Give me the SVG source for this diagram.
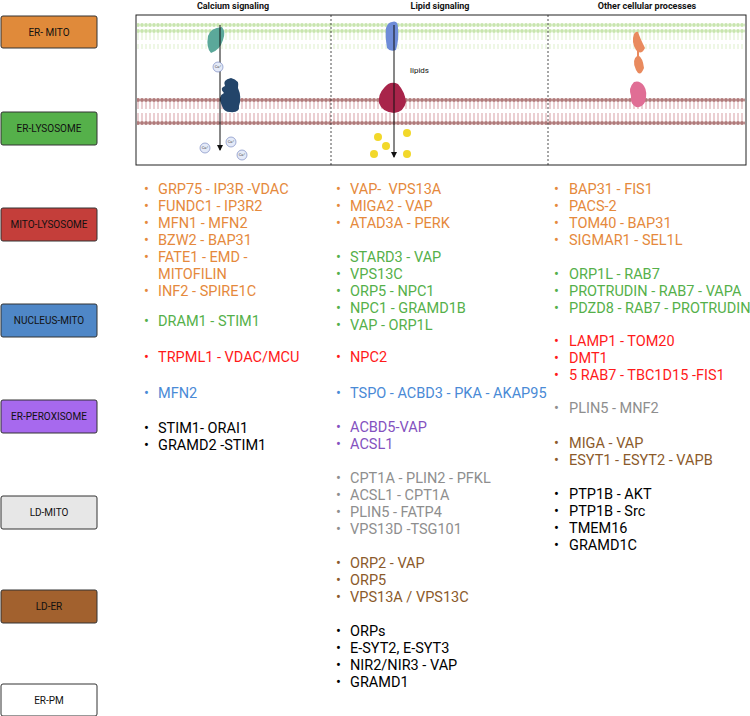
<svg xmlns="http://www.w3.org/2000/svg" width="750" height="716" viewBox="0 0 750 716">
<defs>
<style>
.box{stroke:#333;stroke-width:1;}
.bl{font-family:Roboto,"Liberation Sans",sans-serif;font-size:10px;fill:#111;text-anchor:middle;}
.t{font-family:Roboto,"Liberation Sans",sans-serif;font-size:14.5px;}
.h{font-family:Roboto,"Liberation Sans",sans-serif;font-size:9px;font-weight:bold;fill:#111;text-anchor:middle;}
.o{fill:#E5893C}.g{fill:#55B04A}.r{fill:#FF1A1A}.b{fill:#4A8AD6}.p{fill:#8452C0}.gy{fill:#8E8E8E}.br{fill:#8B5A2B}.k{fill:#000}
.ca{fill:#E4EAF8;stroke:#6A7BB8;stroke-width:0.6}
.cat{font-family:"Liberation Sans",sans-serif;font-size:3.5px;fill:#333;text-anchor:middle}
</style>
<pattern id="gm" x="0" y="0" width="4" height="28" patternUnits="userSpaceOnUse">
<circle cx="2" cy="3" r="1.9" fill="#C8E5AE"/><circle cx="2" cy="25" r="1.9" fill="#C8E5AE"/>
<line x1="1.5" y1="5" x2="1.5" y2="12" stroke="#DCEFCB" stroke-width="0.5"/><line x1="2.5" y1="5" x2="2.5" y2="12" stroke="#DCEFCB" stroke-width="0.5"/>
<line x1="1.5" y1="16" x2="1.5" y2="23" stroke="#DCEFCB" stroke-width="0.5"/><line x1="2.5" y1="16" x2="2.5" y2="23" stroke="#DCEFCB" stroke-width="0.5"/>
</pattern>
<pattern id="rm" x="0" y="97" width="4" height="28" patternUnits="userSpaceOnUse">
<circle cx="2" cy="3" r="2" fill="#B07A7A"/><circle cx="2" cy="26" r="2" fill="#B07A7A"/>
<line x1="1.5" y1="5" x2="1.5" y2="12" stroke="#DDAFB4" stroke-width="0.6"/><line x1="2.5" y1="5" x2="2.5" y2="12" stroke="#DDAFB4" stroke-width="0.6"/>
<line x1="1.5" y1="16" x2="1.5" y2="24" stroke="#DDAFB4" stroke-width="0.6"/><line x1="2.5" y1="16" x2="2.5" y2="24" stroke="#DDAFB4" stroke-width="0.6"/>
</pattern>
<marker id="ar" markerWidth="6" markerHeight="6" refX="5" refY="3" orient="auto"><path d="M0,0 L6,3 L0,6 Z" fill="#111"/></marker>
</defs>
<rect width="750" height="716" fill="#fff"/>

<g id="legend">
<g id="n-ermito"><rect class="box" x="1" y="16" width="96" height="32" rx="2" fill="#E08A3A"/><text class="bl" x="49" y="36">ER- MITO</text></g>
<g id="n-erlyso"><rect class="box" x="1" y="112" width="96" height="33" rx="2" fill="#55B04A"/><text class="bl" x="49" y="132">ER-LYSOSOME</text></g>
<g id="n-mitolyso"><rect class="box" x="1" y="208" width="96" height="33" rx="2" fill="#C43E3A"/><text class="bl" x="49" y="228">MITO-LYSOSOME</text></g>
<g id="n-nucmito"><rect class="box" x="1" y="304" width="96" height="33" rx="2" fill="#4F87C7"/><text class="bl" x="49" y="324">NUCLEUS-MITO</text></g>
<g id="n-erperox"><rect class="box" x="1" y="400" width="96" height="33" rx="2" fill="#A769EE"/><text class="bl" x="49" y="420">ER-PEROXISOME</text></g>
<g id="n-ldmito"><rect class="box" x="1" y="496" width="96" height="33" rx="2" fill="#E7E7E7"/><text class="bl" x="49" y="516">LD-MITO</text></g>
<g id="n-lder"><rect class="box" x="1" y="590" width="96" height="33" rx="2" fill="#A2612E"/><text class="bl" x="49" y="610">LD-ER</text></g>
<g id="n-erpm"><rect class="box" x="1" y="684" width="96" height="32" rx="2" fill="#fff"/><text class="bl" x="49" y="704">ER-PM</text></g>
</g>

<g id="panel">
<text class="h" x="233" y="9">Calcium signaling</text>
<text class="h" x="440" y="9">Lipid signaling</text>
<text class="h" x="647" y="9">Other cellular processes</text>
<rect x="137" y="23" width="608" height="26" fill="url(#gm)"/>
<rect x="137" y="97" width="608" height="28" fill="url(#rm)"/>
<rect x="136" y="15" width="610" height="150" fill="none" stroke="#222" stroke-width="1"/>
<line x1="331" y1="15" x2="331" y2="165" stroke="#222" stroke-width="0.8" stroke-dasharray="2,2"/>
<line x1="548" y1="15" x2="548" y2="165" stroke="#222" stroke-width="0.8" stroke-dasharray="2,2"/>
<path d="M208,36 Q210,28 222,27 Q226,32 223,40 Q220,50 211,53 Q206,48 208,36 Z" fill="#5BA89A"/>
<path d="M225,86 Q222,80 231,78 Q240,80 238,88 Q242,97 239,106 Q240,113 230,112 Q224,112 222,106 Q217,96 224,93 Q219,88 225,86 Z" fill="#23456A"/>
<path d="M392,22 Q398,20 398,28 Q399,40 396,50 Q390,52 387,48 Q385,36 386,28 Q388,22 392,22 Z" fill="#6E8CD8"/>
<path d="M384,88 Q390,80 398,84 Q405,92 406,102 Q404,112 394,113 Q382,112 379,103 Q378,94 384,88 Z" fill="#A8244A"/>
<path d="M638,32 Q640,38 645,48 Q641,56 636,50 Q631,42 634,34 Q636,31 638,32 Z M638,55 Q643,58 644,68 Q640,78 636,70 Q631,60 638,55 Z" fill="#E98A5E"/>
<line x1="638" y1="48" x2="638" y2="57" stroke="#E98A5E" stroke-width="2"/>
<path d="M634,82 Q640,80 644,86 Q648,92 645,102 Q642,108 636,107 Q630,104 631,96 Q628,88 634,82 Z" fill="#E06E95"/>
<line x1="220" y1="25" x2="220" y2="150" stroke="#111" stroke-width="1" marker-end="url(#ar)"/>
<line x1="394" y1="25" x2="394" y2="157" stroke="#111" stroke-width="1" marker-end="url(#ar)"/>
<circle class="ca" cx="218" cy="67" r="5"/><text class="cat" x="218" y="68">Ca²⁺</text>
<circle class="ca" cx="205" cy="148" r="5"/><text class="cat" x="205" y="149">Ca²⁺</text>
<circle class="ca" cx="231" cy="142" r="5"/><text class="cat" x="231" y="143">Ca²⁺</text>
<circle class="ca" cx="242" cy="155" r="5"/><text class="cat" x="242" y="156">Ca²⁺</text>
<text x="410" y="73" style="font-family:Roboto,'Liberation Sans',sans-serif;font-size:8px;fill:#111">lipids</text>
<g fill="#F2D82A"><circle cx="378" cy="137" r="4"/><circle cx="407" cy="133" r="4"/><circle cx="386" cy="146" r="4"/><circle cx="374" cy="154" r="4"/><circle cx="407" cy="154" r="4"/></g>
</g>

<g id="lists" class="t">
<g class="o">
<text x="144" y="194">•</text><text x="158" y="194">GRP75 - IP3R -VDAC</text>
<text x="144" y="211">•</text><text x="158" y="211">FUNDC1 - IP3R2</text>
<text x="144" y="228">•</text><text x="158" y="228">MFN1 - MFN2</text>
<text x="144" y="245">•</text><text x="158" y="245">BZW2 - BAP31</text>
<text x="144" y="262">•</text><text x="158" y="262">FATE1 - EMD -</text>
<text x="158" y="279">MITOFILIN</text>
<text x="144" y="296">•</text><text x="158" y="296">INF2 - SPIRE1C</text>
</g>
<g class="g"><text x="144" y="326">•</text><text x="158" y="326">DRAM1 - STIM1</text></g>
<g class="r"><text x="144" y="362">•</text><text x="158" y="362">TRPML1 - VDAC/MCU</text></g>
<g class="b"><text x="144" y="398">•</text><text x="158" y="398">MFN2</text></g>
<g class="k"><text x="144" y="433">•</text><text x="158" y="433">STIM1- ORAI1</text>
<text x="144" y="450">•</text><text x="158" y="450">GRAMD2 -STIM1</text></g>

<g class="o">
<text x="336" y="194">•</text><text x="350" y="194" xml:space="preserve">VAP-  VPS13A</text>
<text x="336" y="211">•</text><text x="350" y="211">MIGA2 - VAP</text>
<text x="336" y="228">•</text><text x="350" y="228">ATAD3A - PERK</text>
</g>
<g class="g">
<text x="336" y="262">•</text><text x="350" y="262">STARD3 - VAP</text>
<text x="336" y="279">•</text><text x="350" y="279">VPS13C</text>
<text x="336" y="296">•</text><text x="350" y="296">ORP5 - NPC1</text>
<text x="336" y="313">•</text><text x="350" y="313">NPC1 - GRAMD1B</text>
<text x="336" y="330">•</text><text x="350" y="330">VAP - ORP1L</text>
</g>
<g class="r"><text x="336" y="362">•</text><text x="350" y="362">NPC2</text></g>
<g class="b"><text x="336" y="398">•</text><text x="350" y="398">TSPO - ACBD3 - PKA - AKAP95</text></g>
<g class="p"><text x="336" y="432">•</text><text x="350" y="432">ACBD5-VAP</text>
<text x="336" y="449">•</text><text x="350" y="449">ACSL1</text></g>
<g class="gy">
<text x="336" y="483">•</text><text x="350" y="483">CPT1A - PLIN2 - PFKL</text>
<text x="336" y="500">•</text><text x="350" y="500">ACSL1 - CPT1A</text>
<text x="336" y="517">•</text><text x="350" y="517">PLIN5 - FATP4</text>
<text x="336" y="534">•</text><text x="350" y="534">VPS13D -TSG101</text>
</g>
<g class="br">
<text x="336" y="568">•</text><text x="350" y="568">ORP2 - VAP</text>
<text x="336" y="585">•</text><text x="350" y="585">ORP5</text>
<text x="336" y="602">•</text><text x="350" y="602">VPS13A / VPS13C</text>
</g>
<g class="k">
<text x="336" y="636">•</text><text x="350" y="636">ORPs</text>
<text x="336" y="653">•</text><text x="350" y="653">E-SYT2, E-SYT3</text>
<text x="336" y="670">•</text><text x="350" y="670">NIR2/NIR3 - VAP</text>
<text x="336" y="687">•</text><text x="350" y="687">GRAMD1</text>
</g>

<g class="o">
<text x="554" y="194">•</text><text x="569" y="194">BAP31 - FIS1</text>
<text x="554" y="211">•</text><text x="569" y="211">PACS-2</text>
<text x="554" y="228">•</text><text x="569" y="228">TOM40 - BAP31</text>
<text x="554" y="245">•</text><text x="569" y="245">SIGMAR1 - SEL1L</text>
</g>
<g class="g">
<text x="554" y="279">•</text><text x="569" y="279">ORP1L - RAB7</text>
<text x="554" y="296">•</text><text x="569" y="296">PROTRUDIN - RAB7 - VAPA</text>
<text x="554" y="313">•</text><text x="569" y="313">PDZD8 - RAB7 - PROTRUDIN</text>
</g>
<g class="r">
<text x="554" y="346">•</text><text x="569" y="346">LAMP1 - TOM20</text>
<text x="554" y="363">•</text><text x="569" y="363">DMT1</text>
<text x="554" y="380">•</text><text x="569" y="380">5 RAB7 - TBC1D15 -FIS1</text>
</g>
<g class="gy"><text x="554" y="413">•</text><text x="569" y="413">PLIN5 - MNF2</text></g>
<g class="br">
<text x="554" y="448">•</text><text x="569" y="448">MIGA - VAP</text>
<text x="554" y="465">•</text><text x="569" y="465">ESYT1 - ESYT2 - VAPB</text>
</g>
<g class="k">
<text x="554" y="499">•</text><text x="569" y="499">PTP1B - AKT</text>
<text x="554" y="516">•</text><text x="569" y="516">PTP1B - Src</text>
<text x="554" y="533">•</text><text x="569" y="533">TMEM16</text>
<text x="554" y="550">•</text><text x="569" y="550">GRAMD1C</text>
</g>
</g>
</svg>
